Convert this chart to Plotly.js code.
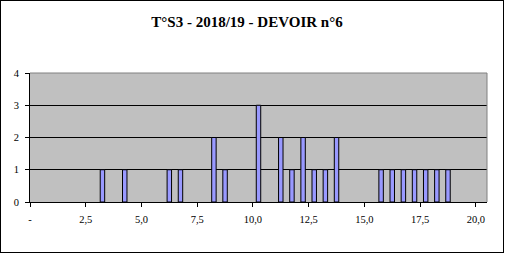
<!DOCTYPE html>
<html>
<head>
<meta charset="utf-8">
<script src="https://cdn.plot.ly/plotly-3.0.1.min.js"></script>
<style>
html,body{margin:0;padding:0;background:#fff;}
#wrap{position:relative;width:509px;height:255px;}
#chart{position:absolute;left:0;top:0;width:509px;height:255px;}
#frame{position:absolute;left:0;top:0;width:502px;height:251px;border:1px solid #000;pointer-events:none;}
</style>
</head>
<body>
<div id="wrap"><div id="chart"></div><div id="frame"></div></div>
<script>
// Scores (half-point bins) and number of students
const scores = [3, 4, 6, 6.5, 8, 8.5, 10, 11, 11.5, 12, 12.5, 13, 13.5, 15.5, 16, 16.5, 17, 17.5, 18, 18.5];
const counts = [1, 1, 1, 1, 2, 1, 3, 2, 1, 2, 1, 1, 2, 1, 1, 1, 1, 1, 1, 1];
const xTickVals = [0, 2.5, 5, 7.5, 10, 12.5, 15, 17.5, 20];
const xTickText = ['-', '2,5', '5,0', '7,5', '10,0', '12,5', '15,0', '17,5', '20,0'];
const yTickVals = [0, 1, 2, 3, 4];
const titleText = 'T°S3 - 2018/19 - DEVOIR n°6';

const serif = 'Liberation Serif, Times New Roman, serif';

Plotly.newPlot('chart', [{
  type: 'bar',
  x: scores,
  y: counts,
  width: 0.2,
  offset: 0.15,
  marker: {color: '#9999FF', line: {color: '#000000', width: 1}},
  hoverinfo: 'skip'
}], {
  width: 509, height: 255,
  margin: {l: 29.5, r: 21.7, t: 73.3, b: 52.7, pad: 0},
  paper_bgcolor: '#ffffff',
  plot_bgcolor: '#C0C0C0',
  showlegend: false,
  title: {
    text: '<b>' + titleText + '</b>',
    font: {family: serif, size: 15, color: '#000'},
    x: 247/509, xanchor: 'center', y: 1 - 22/255, yanchor: 'middle'
  },
  xaxis: {
    range: [0, 20.5],
    tickmode: 'array', tickvals: xTickVals, ticktext: xTickText,
    showgrid: false, zeroline: false,
    showline: true, linecolor: '#000', linewidth: 1,
    ticks: 'outside', ticklen: 4, tickcolor: '#000', tickwidth: 1,
    ticklabelstandoff: 3,
    tickfont: {family: serif, size: 10.5, color: '#000'}
  },
  yaxis: {
    range: [0, 4],
    tickmode: 'array', tickvals: yTickVals,
    showgrid: true, gridcolor: '#000', gridwidth: 1,
    zeroline: false,
    showline: true, linecolor: '#000', linewidth: 1,
    ticks: 'outside', ticklen: 4, tickcolor: '#000', tickwidth: 1,
    ticklabelstandoff: 4,
    tickfont: {family: serif, size: 10.5, color: '#000'}
  },
  shapes: [
    {type: 'line', xref: 'paper', yref: 'paper', x0: 0, x1: 1, y0: 1, y1: 1, line: {color: '#808080', width: 1}, layer: 'above'},
    {type: 'line', xref: 'paper', yref: 'paper', x0: 1, x1: 1, y0: 0, y1: 1, line: {color: '#808080', width: 1}, layer: 'above'}
  ]
}, {staticPlot: true, displayModeBar: false});
</script>
</body>
</html>
